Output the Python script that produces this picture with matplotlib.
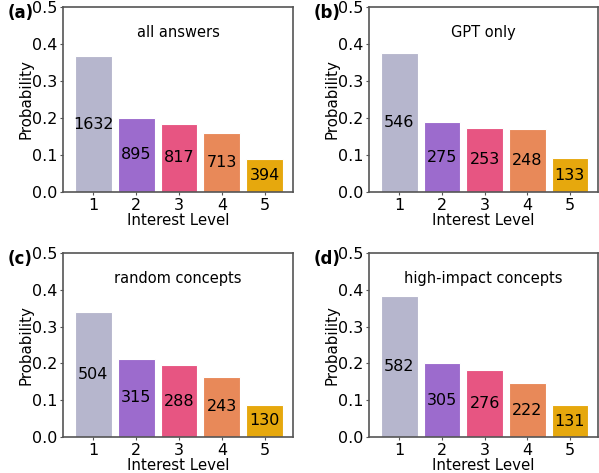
import matplotlib
matplotlib.use("Agg")
import matplotlib.pyplot as plt

levels = [1, 2, 3, 4, 5]
panel_titles = ["all answers", "GPT only", "random concepts", "high-impact concepts"]
panel_letters = ["(a)", "(b)", "(c)", "(d)"]

counts_all = [1632, 895, 817, 713, 394]
counts_gpt = [546, 275, 253, 248, 133]
counts_random = [504, 315, 288, 243, 130]
counts_high = [582, 305, 276, 222, 131]

prob_all = [0.367, 0.201, 0.184, 0.160, 0.089]
prob_gpt = [0.375, 0.189, 0.174, 0.170, 0.091]
prob_random = [0.341, 0.213, 0.195, 0.164, 0.088]
prob_high = [0.384, 0.201, 0.182, 0.146, 0.086]

bar_colors = ["#b6b6cd", "#9c6bcd", "#e75582", "#e88959", "#e6a80d"]

yticks = [0.0, 0.1, 0.2, 0.3, 0.4, 0.5]

W, H = 599, 473
fig = plt.figure(figsize=(W / 100, H / 100), dpi=100)

# axes rectangles in pixels: left, top, right, bottom
rects = [(63, 7, 294, 192), (369, 7, 599, 192), (63, 253, 294, 437), (369, 253, 599, 437)]

panels = [
    (prob_all, counts_all),
    (prob_gpt, counts_gpt),
    (prob_random, counts_random),
    (prob_high, counts_high),
]

for i, ((probs, counts), (l, t, r, b)) in enumerate(zip(panels, rects)):
    ax = fig.add_axes([l / W, 1 - b / H, (r - 1 - l) / W, (b - t) / H])
    bars = ax.bar(levels, probs, width=0.86, color=bar_colors,
                  edgecolor="#ffffff", linewidth=0.8)
    ax.bar_label(bars, labels=[str(c) for c in counts], label_type="center",
                 fontsize=11.5, color="black")
    ax.set_ylim(0, 0.5)
    ax.set_xlim(0.29, 5.66)
    ax.set_xticks(levels)
    ax.set_yticks(yticks)
    ax.set_yticklabels([f"{v:.1f}" for v in yticks])
    ax.tick_params(labelsize=11.5, color="#555555", length=2.5, pad=1.5)
    ax.set_xlabel("Interest Level", fontsize=10.8, labelpad=0)
    ax.set_ylabel("Probability", fontsize=10.8, labelpad=-1)
    for sp in ax.spines.values():
        sp.set_color("#555555")
        sp.set_linewidth(1.2)
    ax.text(0.5, 0.86, panel_titles[i], transform=ax.transAxes,
            ha="center", va="center", fontsize=10.5)
    fig.text((l - 55) / W, 1 - (t + 6) / H, panel_letters[i],
             fontsize=12, fontweight="bold", ha="left", va="center")

fig.savefig("out.png", dpi=100)
